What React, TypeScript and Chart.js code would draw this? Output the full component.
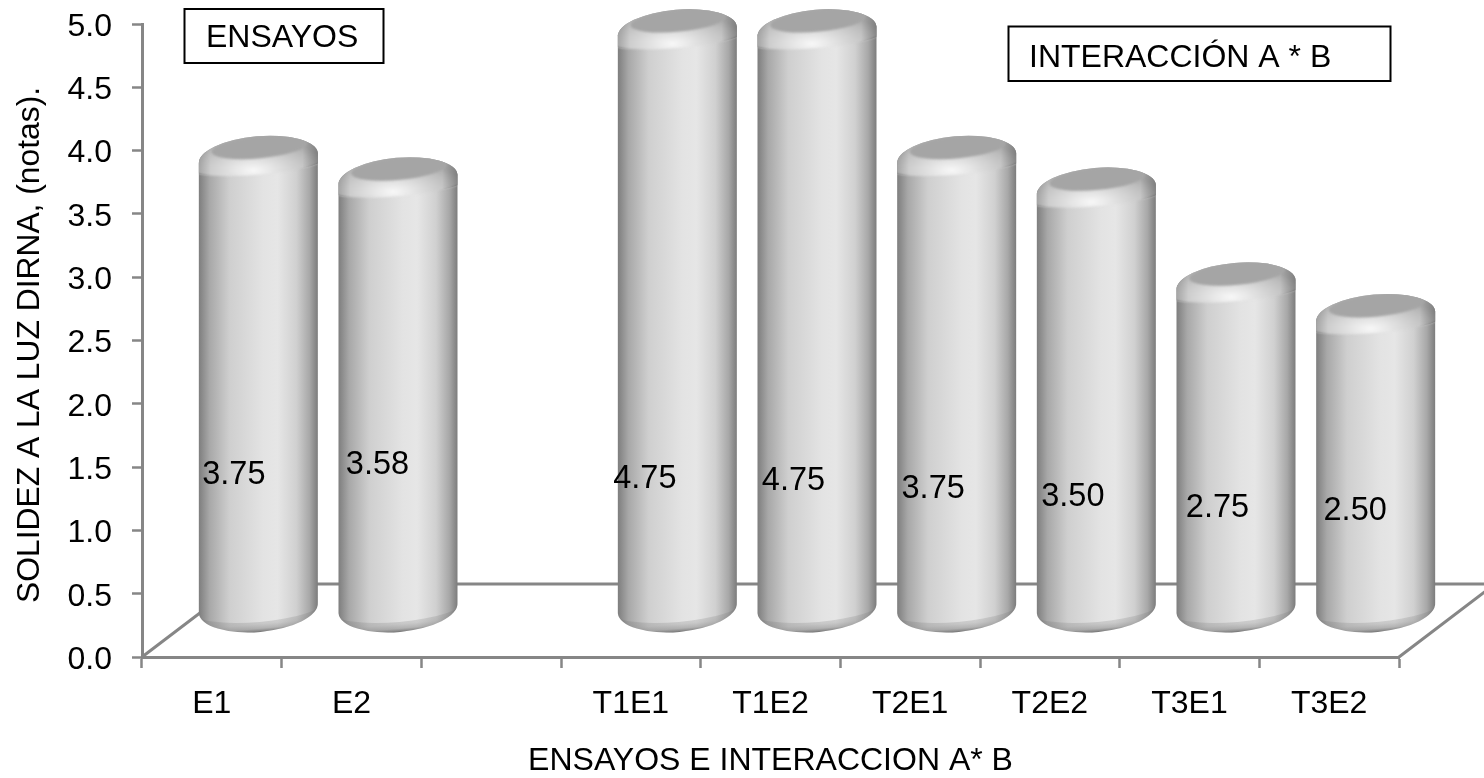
import { useEffect, useRef } from "react";
import { Chart, registerables } from "chart.js";

Chart.register(...registerables);

// Categories; the empty slot separates the two groups of bars.
const categories = ["E1", "E2", "", "T1E1", "T1E2", "T2E1", "T2E2", "T3E1", "T3E2"];
const solidez = [3.75, 3.58, null, 4.75, 4.75, 3.75, 3.5, 2.75, 2.5];
const valueLabels = ["3.75", "3.58", "", "4.75", "4.75", "3.75", "3.50", "2.75", "2.50"];
const yTitle = "SOLIDEZ A LA LUZ DIRNA, (notas). ";
const xTitle = "ENSAYOS E INTERACCION A* B";
const boxEnsayos = "ENSAYOS";
const boxInteraccion = "INTERACCIÓN A * B";

const FONT = '"Liberation Sans", Arial, sans-serif';
const AXIS = "#868686";

// Oblique projection of the floor: how far the back edge sits from the front edge.
const DEPTH_X = 96;
const DEPTH_Y = 73;
// Bars stand in the middle of the floor's depth.
const BAR_SHIFT_X = 46.5;
const TILT = (5 * Math.PI) / 180;

// Hand-placed offsets of the value labels, from the category centre and the bar's middle.
const labelDx = [22, 26, 0, 14, 23, 23, 23, 28, 26];
const labelDy = [55, 35, 0, 123, 125, 69, 62, 25, 12.5];

function drawCylinder(ctx: CanvasRenderingContext2D, cx: number, w: number, yv: number, y0: number) {
  const left = cx - w / 2;
  const right = cx + w / 2;
  const rx = w / 2 / Math.cos(TILT);
  const topY = yv - 24;
  const botY = y0 - 49;

  ctx.save();
  ctx.beginPath();
  ctx.ellipse(cx, topY, rx, 22, -TILT, Math.PI, 2 * Math.PI);
  ctx.ellipse(cx, botY, rx, 24, -TILT, 0, Math.PI);
  ctx.closePath();
  const side = ctx.createLinearGradient(left, 0, right, 0);
  side.addColorStop(0, "#7e7e7e");
  side.addColorStop(0.09, "#a8a8a8");
  side.addColorStop(0.26, "#cfcfcf");
  side.addColorStop(0.54, "#e3e3e3");
  side.addColorStop(0.66, "#e6e6e6");
  side.addColorStop(0.82, "#d0d0d0");
  side.addColorStop(0.93, "#a8a8a8");
  side.addColorStop(1, "#7c7c7c");
  ctx.fillStyle = side;
  ctx.fill();
  ctx.clip();

  const shoulder = () => {
    ctx.beginPath();
    ctx.ellipse(cx, topY, rx + 6, 30, -TILT, Math.PI, 2 * Math.PI);
    ctx.ellipse(cx, yv - 18, rx + 6, 10.5, -TILT, 0, Math.PI);
    ctx.closePath();
  };

  // Rounded shoulder below the lid, with its soft highlight along the lower rim.
  const shine = ctx.createRadialGradient(0, 0, 0, 0, 0, 75);
  shine.addColorStop(0, "#f8f8f8");
  shine.addColorStop(0.25, "#e6e6e6");
  shine.addColorStop(0.55, "#cfcfcf");
  shine.addColorStop(0.8, "#bcbcbc");
  shine.addColorStop(1, "#aaaaaa");
  ctx.save();
  ctx.filter = "blur(1.2px)";
  shoulder();
  ctx.translate(cx - 5, yv - 12);
  ctx.scale(1, 0.42);
  ctx.fillStyle = shine;
  ctx.fill();
  ctx.restore();

  // Side falloff across the shoulder.
  const edge = ctx.createLinearGradient(left, 0, right, 0);
  edge.addColorStop(0, "rgba(0,0,0,0.15)");
  edge.addColorStop(0.1, "rgba(0,0,0,0)");
  edge.addColorStop(0.87, "rgba(0,0,0,0)");
  edge.addColorStop(1, "rgba(0,0,0,0.25)");
  shoulder();
  ctx.fillStyle = edge;
  ctx.fill();

  // Flat lid with a slightly soft rim.
  ctx.save();
  ctx.filter = "blur(1px)";
  ctx.beginPath();
  ctx.ellipse(cx + 1, yv - 35, 48, 11, -TILT * 1.1, 0, 2 * Math.PI);
  ctx.fillStyle = "#a5a5a5";
  ctx.fill();
  ctx.restore();

  // Rounded foot, darkening toward the floor along the tilt of the base.
  ctx.beginPath();
  ctx.ellipse(cx, y0 - 50, rx + 6, 15, -TILT, 0, Math.PI);
  ctx.lineTo(left - 8, y0);
  ctx.lineTo(right + 8, y0);
  ctx.closePath();
  const footLen = 18;
  const foot = ctx.createLinearGradient(
    cx,
    y0 - 42,
    cx + footLen * Math.sin(TILT),
    y0 - 42 + footLen * Math.cos(TILT)
  );
  foot.addColorStop(0, "rgba(0,0,0,0.06)");
  foot.addColorStop(0.5, "rgba(0,0,0,0.12)");
  foot.addColorStop(0.75, "rgba(0,0,0,0.22)");
  foot.addColorStop(0.9, "rgba(0,0,0,0.4)");
  foot.addColorStop(1, "rgba(0,0,0,0.62)");
  ctx.fillStyle = foot;
  ctx.fill();
  ctx.restore();
}

const floorPlugin = {
  id: "floor3d",
  beforeDatasetsDraw(chart: any) {
    const { ctx, chartArea } = chart;
    const { left, right, bottom } = chartArea;
    ctx.save();
    ctx.strokeStyle = AXIS;
    ctx.lineWidth = 3;
    ctx.beginPath();
    ctx.moveTo(left, bottom);
    ctx.lineTo(left + DEPTH_X, bottom - DEPTH_Y);
    ctx.lineTo(right + DEPTH_X, bottom - DEPTH_Y);
    ctx.moveTo(right, bottom);
    ctx.lineTo(right + DEPTH_X, bottom - DEPTH_Y);
    ctx.stroke();
    ctx.restore();
  },
};

const cylinderPlugin = {
  id: "cylinders",
  afterDatasetsDraw(chart: any) {
    const { ctx, scales } = chart;
    const y0 = scales.y.getPixelForValue(0);
    const bars = chart.getDatasetMeta(0).data;
    bars.forEach((bar: any, i: number) => {
      if (solidez[i] == null) return;
      drawCylinder(ctx, bar.x + BAR_SHIFT_X, bar.width, bar.y, y0);
    });
    ctx.save();
    ctx.fillStyle = "#000";
    ctx.font = `32.5px ${FONT}`;
    ctx.textAlign = "center";
    ctx.textBaseline = "middle";
    bars.forEach((bar: any, i: number) => {
      if (solidez[i] == null) return;
      ctx.fillText(valueLabels[i], bar.x + labelDx[i], (bar.y + y0) / 2 + labelDy[i]);
    });
    ctx.restore();
  },
};

const boxesPlugin = {
  id: "textBoxes",
  afterDraw(chart: any) {
    const { ctx } = chart;
    const box = (x: number, y: number, w: number, h: number, text: string, tx: number, by: number) => {
      ctx.fillStyle = "#fff";
      ctx.fillRect(x, y, w, h);
      ctx.strokeStyle = "#000";
      ctx.lineWidth = 2;
      ctx.strokeRect(x, y, w, h);
      ctx.fillStyle = "#000";
      ctx.font = `32px ${FONT}`;
      ctx.textAlign = "left";
      ctx.textBaseline = "alphabetic";
      ctx.fillText(text, tx, by);
    };
    ctx.save();
    box(184.5, 9, 199, 54, boxEnsayos, 206, 47);
    box(1008.5, 26.5, 382, 54.5, boxInteraccion, 1029, 67);
    ctx.restore();
  },
};

export default function App() {
  const ref = useRef<HTMLCanvasElement>(null);
  useEffect(() => {
    const chart = new Chart(ref.current!, {
      type: "bar",
      data: {
        labels: categories,
        datasets: [
          {
            data: solidez,
            backgroundColor: "rgba(0,0,0,0)",
            borderWidth: 0,
            categoryPercentage: 1,
            barPercentage: 0.852,
          },
        ],
      },
      plugins: [floorPlugin, cylinderPlugin, boxesPlugin],
      options: {
        responsive: false,
        animation: false,
        layout: { padding: { top: 24, right: 85, left: 0, bottom: 0 } },
        plugins: { legend: { display: false }, tooltip: { enabled: false } },
        scales: {
          x: {
            afterFit: (s: any) => {
              s.height = 121;
              s.paddingLeft = 0;
              s.paddingRight = 0;
            },
            grid: { drawOnChartArea: false, tickLength: 11, tickColor: AXIS, tickWidth: 2.5, offset: true },
            border: { color: AXIS, width: 3 },
            ticks: { color: "#000", font: { family: FONT, size: 32 }, padding: 17, maxRotation: 0, autoSkip: false },
            title: {
              display: true,
              text: xTitle,
              color: "#000",
              font: { family: FONT, size: 32, lineHeight: 1.05 },
              padding: { top: 0, bottom: 0 },
            },
          },
          y: {
            min: 0,
            max: 5,
            afterFit: (s: any) => {
              s.width = 142;
              s.paddingTop = 0;
              s.paddingBottom = 0;
            },
            grid: { drawOnChartArea: false, tickLength: 10, tickColor: AXIS, tickWidth: 2.5 },
            border: { color: AXIS, width: 3 },
            ticks: {
              stepSize: 0.5,
              color: "#000",
              font: { family: FONT, size: 32 },
              padding: 20,
              labelOffset: 3,
              callback: (v: any) => Number(v).toFixed(1),
            },
            title: {
              display: true,
              text: yTitle,
              color: "#000",
              font: { family: FONT, size: 31.8 },
              padding: { top: 11, bottom: 0 },
            },
          },
        },
      },
    } as any);
    return () => chart.destroy();
  }, []);
  return (
    <div>
      <canvas
        ref={ref}
        width={1484}
        height={778}
        style={{ position: "absolute", left: 0, top: 0, display: "block", background: "#fff" }}
      />
    </div>
  );
}
